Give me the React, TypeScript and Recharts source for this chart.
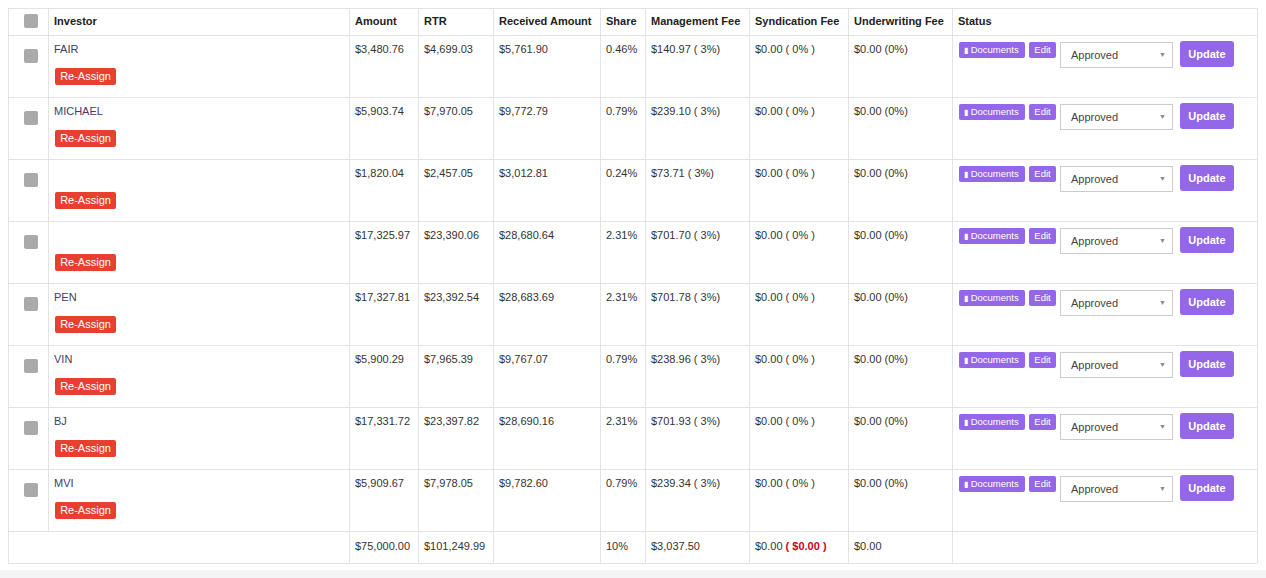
import React from "react";
import { Surface, Rectangle } from "recharts";

const headers = ["", "Investor", "Amount", "RTR", "Received Amount", "Share", "Management Fee", "Syndication Fee", "Underwriting Fee", "Status"];
const investors = ["FAIR", "MICHAEL", "", "", "PEN", "VIN", "BJ", "MVI"];
const amounts = ["$3,480.76", "$5,903.74", "$1,820.04", "$17,325.97", "$17,327.81", "$5,900.29", "$17,331.72", "$5,909.67"];
const rtrs = ["$4,699.03", "$7,970.05", "$2,457.05", "$23,390.06", "$23,392.54", "$7,965.39", "$23,397.82", "$7,978.05"];
const received = ["$5,761.90", "$9,772.79", "$3,012.81", "$28,680.64", "$28,683.69", "$9,767.07", "$28,690.16", "$9,782.60"];
const shares = ["0.46%", "0.79%", "0.24%", "2.31%", "2.31%", "0.79%", "2.31%", "0.79%"];
const mgmtFees = ["$140.97 ( 3%)", "$239.10 ( 3%)", "$73.71 ( 3%)", "$701.70 ( 3%)", "$701.78 ( 3%)", "$238.96 ( 3%)", "$701.93 ( 3%)", "$239.34 ( 3%)"];
const totals = ["", "", "$75,000.00", "$101,249.99", "", "10%", "$3,037.50", "", "$0.00", ""];

const colX = [8, 48, 349, 418, 493, 600, 645, 749, 848, 952, 1257];
const HEAD_H = 27;
const ROW_H = 62;
const TOP = 8;
const border = "#e3e3e3";
const purple = "#9466e8";

function Check({ x, y }: { x: number; y: number }) {
  return (
    <Surface width={14} height={14} viewBox={{ x: 0, y: 0, width: 14, height: 14 }} style={{ position: "absolute", left: x, top: y }}>
      <Rectangle x={0} y={0} width={14} height={14} radius={2} fill="#aaaaaa" />
    </Surface>
  );
}

const cellText = (x: number, y: number, content: React.ReactNode, bold = false, key?: string) => (
  <div key={key} style={{ position: "absolute", left: x + 6, top: y, fontSize: 11, color: bold ? "#222" : "#333", fontWeight: bold ? 700 : 400, whiteSpace: "nowrap" }}>
    {content}
  </div>
);

export default function App() {
  const W = colX[colX.length - 1] - colX[0];
  const tableBottom = TOP + HEAD_H + ROW_H * investors.length + 32;
  const lines: React.ReactNode[] = [];
  // horizontal
  const ys = [TOP, TOP + HEAD_H];
  for (let i = 1; i <= investors.length; i++) ys.push(TOP + HEAD_H + ROW_H * i);
  ys.push(tableBottom);
  ys.forEach((y, i) => lines.push(<div key={"h" + i} style={{ position: "absolute", left: colX[0], top: y, width: W, height: 1, background: border }} />));
  colX.forEach((x, i) => {
    const isFirstInner = i === 1;
    lines.push(
      <div key={"v" + i} style={{ position: "absolute", left: x, top: TOP, width: 1, height: (isFirstInner ? TOP + HEAD_H + ROW_H * investors.length : tableBottom) - TOP, background: border }} />
    );
  });
  const cells: React.ReactNode[] = [];
  headers.forEach((h, i) => { if (i > 0) cells.push(cellText(colX[i], TOP + 7, h, true, "hd" + i)); });
  cells.push(<Check key="hc" x={24} y={TOP + 6} />);
  investors.forEach((inv, r) => {
    const y = TOP + HEAD_H + ROW_H * r;
    cells.push(<Check key={"c" + r} x={24} y={y + 14} />);
    cells.push(cellText(colX[1], y + 8, <span style={{ color: "#3d3d6b" }}>{inv}</span>, false, "i" + r));
    cells.push(
      <div key={"ra" + r} style={{ position: "absolute", left: 55, top: y + 33, width: 61, height: 17, background: "#e8402f", color: "#fff", fontSize: 11, borderRadius: 2, textAlign: "center", lineHeight: "17px" }}>Re-Assign</div>
    );
    const vals = [amounts[r], rtrs[r], received[r], shares[r], mgmtFees[r], "$0.00 ( 0% )", "$0.00 (0%)"];
    vals.forEach((v, j) => cells.push(cellText(colX[j + 2], y + 8, v, false, `v${r}-${j}`)));
    cells.push(
      <div key={"doc" + r} style={{ position: "absolute", left: 959, top: y + 7, width: 66, height: 16, background: purple, color: "#fff", fontSize: 9.5, borderRadius: 2, lineHeight: "16px", whiteSpace: "nowrap" }}>
        <span style={{ marginLeft: 5, fontSize: 8 }}>▮</span> Documents
      </div>
    );
    cells.push(
      <div key={"ed" + r} style={{ position: "absolute", left: 1029, top: y + 7, width: 27, height: 16, background: purple, color: "#fff", fontSize: 9.5, borderRadius: 2, lineHeight: "16px", textAlign: "center" }}>Edit</div>
    );
    cells.push(
      <div key={"sel" + r} style={{ position: "absolute", left: 1060, top: y + 7, width: 111, height: 24, border: "1px solid #ccc", background: "#fff", fontSize: 11, color: "#444", lineHeight: "24px" }}>
        <span style={{ marginLeft: 10 }}>Approved</span>
        <span style={{ position: "absolute", right: 6, fontSize: 7, color: "#888" }}>▼</span>
      </div>
    );
    cells.push(
      <div key={"up" + r} style={{ position: "absolute", left: 1180, top: y + 6, width: 54, height: 26, background: purple, color: "#fff", fontSize: 11, fontWeight: 700, borderRadius: 3, lineHeight: "26px", textAlign: "center" }}>Update</div>
    );
  });
  const ty = TOP + HEAD_H + ROW_H * investors.length + 9;
  totals.forEach((t, i) => { if (t) cells.push(cellText(colX[i], ty, t, false, "t" + i)); });
  cells.push(cellText(colX[7], ty, <span>$0.00 <span style={{ color: "#d0021b", fontWeight: 700 }}>( $0.00 )</span></span>, false, "t7"));
  return (
    <div style={{ position: "absolute", left: 0, top: 0, width: 1266, height: 578, background: "#fff", fontFamily: "'Liberation Sans', Arial, sans-serif", overflow: "hidden" }}>
      <div style={{ position: "absolute", left: 0, top: 570, width: 1266, height: 8, background: "#f4f4f6" }} />
      {lines}
      {cells}
    </div>
  );
}
